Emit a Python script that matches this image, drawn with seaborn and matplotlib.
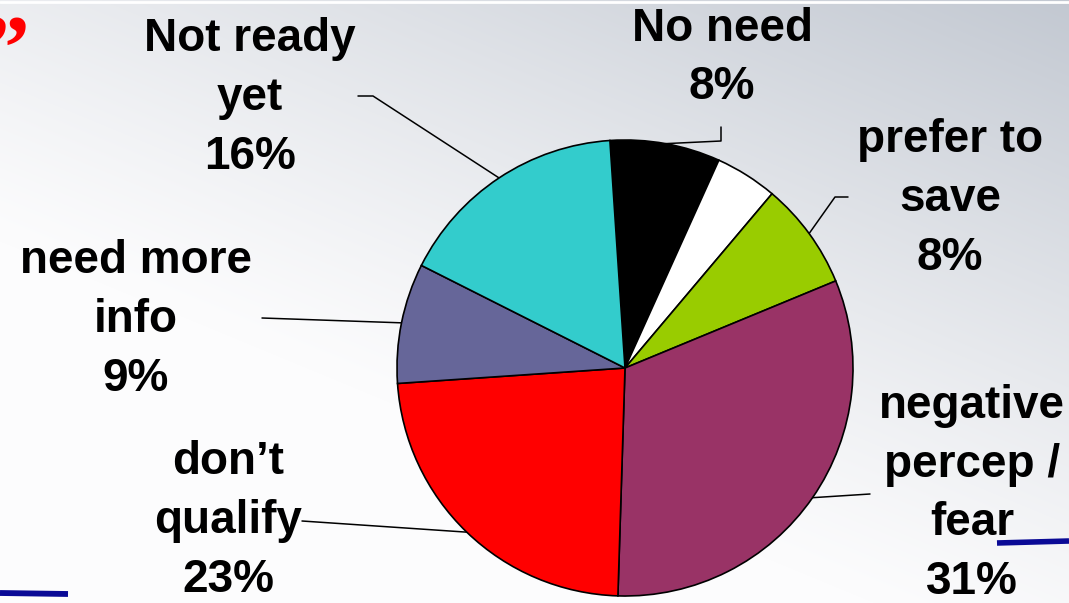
import numpy as np
import matplotlib
matplotlib.use("Agg")
import matplotlib.pyplot as plt
import seaborn as sns

# ---- data ----
categories = ["No need", "", "prefer to\nsave", "negative\npercep /\nfear",
              "don\u2019t\nqualify", "need more\ninfo", "Not ready\nyet"]
shares = [7.8, 4.4, 7.6, 31.7, 23.4, 8.5, 16.5]
pct_labels = ["8%", "", "8%", "31%", "23%", "9%", "16%"]
colors = ["#000000", "#FFFFFF", "#99CC00", "#993366", "#FF0000", "#666699", "#33CCCC"]

sns.set_theme(style="white")
plt.rcParams['font.family'] = ['Liberation Sans', 'DejaVu Sans']

W, H = 1069, 603
fig = plt.figure(figsize=(W / 100, H / 100), dpi=100)
ax = fig.add_axes([0, 0, 1, 1])

# background gradient (light, darker toward top-right)
yy, xx = np.mgrid[0:H, 0:W]
t = np.clip(0.55 * (xx / W) + 0.75 * (1 - yy / H) - 0.45, 0, 1) ** 1.2
c0 = np.array([252, 252, 253]) / 255
c1 = np.array([182, 189, 200]) / 255
img = c0[None, None, :] * (1 - t[..., None]) + c1[None, None, :] * t[..., None]
ax.imshow(img, extent=(0, W, 0, H), origin="upper", zorder=0, aspect="auto")
ax.plot([0, W], [H - 1.5, H - 1.5], color="white", lw=2, zorder=1)

cx, cy, R = 625, H - 368, 228
wedges, _ = ax.pie(shares, colors=colors, startangle=93.8, counterclock=False,
                   center=(cx, cy), radius=R,
                   wedgeprops=dict(edgecolor="black", linewidth=1.2))
for w in wedges:
    w.set_zorder(3)

# label layout (image pixel coords): text center, leader path start points
layout = {
    0: dict(text=(722, 58), path=[(721, 127), (721, 141)]),
    2: dict(text=(950, 199), path=[(848, 197), (835, 197)]),
    3: dict(text=(972, 494), path=[(870, 494)]),
    4: dict(text=(228, 521), path=[(302, 521)]),
    5: dict(text=(136, 320), path=[(262, 318)]),
    6: dict(text=(250, 98), path=[(358, 96), (373, 96)]),
}

for i, spec in layout.items():
    w = wedges[i]
    ang = np.deg2rad((w.theta1 + w.theta2) / 2)
    px, py = cx + R * np.cos(ang), cy + R * np.sin(ang)
    xs = [p[0] for p in spec["path"]] + [px]
    ys = [H - p[1] for p in spec["path"]] + [py]
    ax.plot(xs, ys, color="black", lw=1.1, zorder=2)
    tx, ty = spec["text"]
    ax.text(tx, H - ty, categories[i] + "\n" + pct_labels[i], ha="center", va="center",
            multialignment="center", fontsize=33, fontweight="bold", color="black",
            linespacing=1.43, zorder=4)

# slide decorations: red quote mark and hand-drawn blue strokes
ax.text(29, H - 15, "\u201d", fontsize=66, fontweight="bold", color="#FF0000",
        family=["Liberation Serif", "DejaVu Serif"], ha="right", va="top", zorder=4)
ax.plot([0, 68], [H - 593, H - 594], color="#0A0A96", lw=4.2, solid_capstyle="butt", zorder=4)
ax.plot([997, 1069], [H - 543, H - 541],
        color="#0A0A96", lw=4, solid_capstyle="butt", zorder=4)

ax.set_xlim(0, W)
ax.set_ylim(0, H)
ax.set_aspect("equal")
ax.axis("off")

fig.savefig("out.png", dpi=100)
